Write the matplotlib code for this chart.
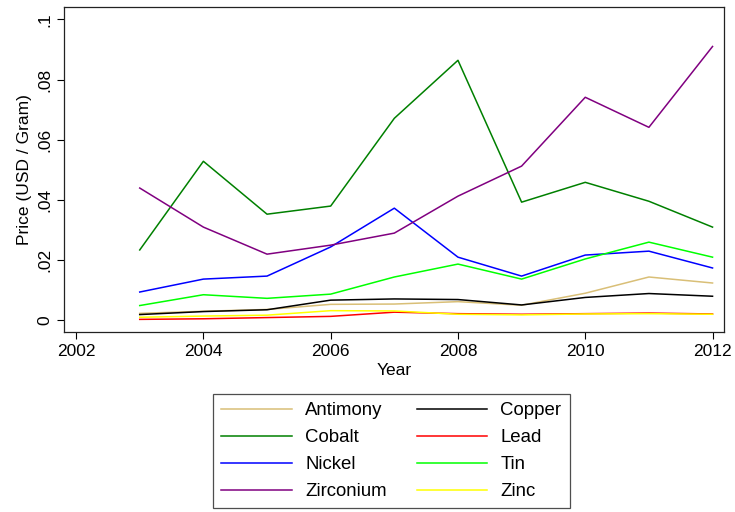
import matplotlib.pyplot as plt
from matplotlib.ticker import FixedLocator

plt.rcParams['font.family'] = ['Liberation Sans', 'DejaVu Sans']

years = [2003, 2004, 2005, 2006, 2007, 2008, 2009, 2010, 2011, 2012]

antimony = [0.0022, 0.0029, 0.0035, 0.0052, 0.0053, 0.0061, 0.0049, 0.0089, 0.0143, 0.0123]
copper = [0.0018, 0.0028, 0.0034, 0.0066, 0.0070, 0.0068, 0.0050, 0.0075, 0.0088, 0.0079]
cobalt = [0.0233, 0.0528, 0.0352, 0.0379, 0.0671, 0.0864, 0.0392, 0.0458, 0.0395, 0.0309]
lead = [0.0002, 0.0004, 0.0008, 0.0012, 0.0026, 0.0021, 0.0019, 0.0021, 0.0023, 0.0020]
nickel = [0.0093, 0.0136, 0.0146, 0.0243, 0.0372, 0.0209, 0.0146, 0.0216, 0.0229, 0.0173]
tin = [0.0048, 0.0084, 0.0072, 0.0086, 0.0143, 0.0186, 0.0136, 0.0203, 0.0259, 0.0209]
zirconium = [0.0439, 0.0309, 0.0219, 0.0249, 0.0289, 0.0412, 0.0512, 0.0741, 0.0641, 0.0910]
zinc = [0.0009, 0.0013, 0.0016, 0.0031, 0.0030, 0.0019, 0.0017, 0.0020, 0.0021, 0.0019]

# drawing order = Stata variable order (row-major legend)
series = [
    ("Antimony", antimony, "#D9BF77"),
    ("Copper", copper, "#000000"),
    ("Cobalt", cobalt, "#008000"),
    ("Lead", lead, "#FF0000"),
    ("Nickel", nickel, "#0000FF"),
    ("Tin", tin, "#00FF00"),
    ("Zirconium", zirconium, "#800080"),
    ("Zinc", zinc, "#FFFF00"),
]

fig = plt.figure(figsize=(7.35, 5.12), dpi=100)
ax = fig.add_axes([64 / 735, 1 - 332 / 512, 660 / 735, 325.5 / 512])

handles = {}
for name, vals, col in series:
    line, = ax.plot(years, vals, color=col, lw=1.1, label=name)
    handles[name] = line

ax.set_xlim(2001.81, 2012.18)
ax.set_ylim(-0.004, 0.1043)
ax.xaxis.set_major_locator(FixedLocator([2002, 2004, 2006, 2008, 2010, 2012]))
ax.set_yticks([0, 0.02, 0.04, 0.06, 0.08, 0.1])
ax.set_yticklabels(["0", ".02", ".04", ".06", ".08", ".1"], rotation=90, va="center")
ax.tick_params(direction="out", length=5, width=0.8, labelsize=12.5, colors="black")
ax.set_xlabel("Year", fontsize=12.5, labelpad=3)
ax.set_ylabel("Price (USD / Gram)", fontsize=12.5, labelpad=4)
for sp in ax.spines.values():
    sp.set_linewidth(0.9)
    sp.set_color("#222222")

# matplotlib fills legend columns first, so reorder to get row-major layout
order = ["Antimony", "Cobalt", "Nickel", "Zirconium", "Copper", "Lead", "Tin", "Zinc"]
leg = fig.legend([handles[n] for n in order], order, ncol=2,
                 loc="upper left", bbox_to_anchor=(213 / 735, 1 - 394 / 512),
                 fontsize=13.4, frameon=True, fancybox=False, edgecolor="#222222",
                 handlelength=3.8, handletextpad=0.7, columnspacing=1.6,
                 labelspacing=0.53, borderpad=0.45, borderaxespad=0)
leg.get_frame().set_linewidth(0.9)

fig.savefig("out.png", dpi=100)
